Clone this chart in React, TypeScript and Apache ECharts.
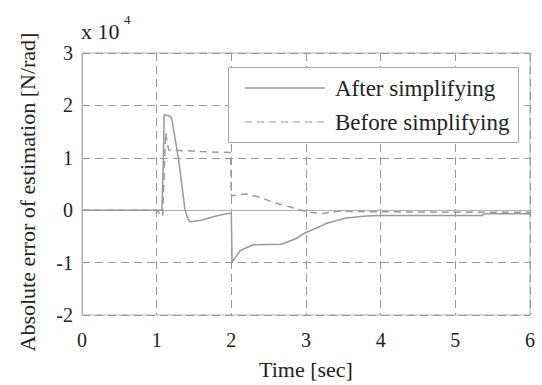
import React, { useEffect, useRef } from "react";
import * as echarts from "echarts";

const afterTimes = [0, 1.07, 1.09, 1.1, 1.17, 1.2, 1.29, 1.38, 1.42, 1.45, 1.5, 1.6, 1.72, 1.85, 1.98, 2.0, 2.01, 2.12, 2.29, 2.67, 2.87, 2.99, 3.19, 3.28, 3.54, 3.81, 4.0, 5.35, 5.4, 6];
const afterValues = [0, 0, 1.0, 1.82, 1.8, 1.76, 1.0, 0, -0.17, -0.22, -0.21, -0.19, -0.14, -0.09, -0.06, -0.06, -0.99, -0.77, -0.66, -0.65, -0.54, -0.43, -0.31, -0.25, -0.15, -0.11, -0.1, -0.1, -0.07, -0.07];

const beforeTimes = [0, 1.0, 1.05, 1.08, 1.12, 1.16, 1.3, 1.6, 1.99, 2.0, 2.02, 2.2, 2.38, 2.56, 2.79, 2.99, 3.19, 3.41, 4.0, 5.0, 6.0];
const beforeValues = [0, 0, -0.08, -0.12, 1.48, 1.15, 1.14, 1.12, 1.1, 0.27, 0.28, 0.31, 0.25, 0.15, 0.06, -0.02, -0.07, -0.02, -0.03, -0.04, -0.04];

const xTicks = [0, 1, 2, 3, 4, 5, 6];
const yTicks = [-2, -1, 0, 1, 2, 3];
const seriesNames = ["After simplifying", "Before simplifying"];
const yAxisTitle = "Absolute error of estimation [N/rad]";
const xAxisTitle = "Time [sec]";

const FONT = "'Liberation Serif', 'DejaVu Serif', serif";
const LINE_COLOR = "#9a9a9a";
const TEXT_COLOR = "#222";

export default function App() {
  const ref = useRef<HTMLDivElement>(null);
  useEffect(() => {
    if (!ref.current) return;
    const chart = echarts.init(ref.current, null, { renderer: "svg" });
    const after = afterTimes.map((t, i) => [t, afterValues[i]]);
    const before = beforeTimes.map((t, i) => [t, beforeValues[i]]);
    const legendTextStyle = {
      fontFamily: FONT,
      fontSize: 23,
      fill: TEXT_COLOR,
      verticalAlign: "middle" as const,
      align: "left" as const,
    };
    chart.setOption({
      animation: false,
      backgroundColor: "#fff",
      textStyle: { fontFamily: FONT },
      grid: {
        left: 82,
        right: 12,
        top: 53,
        bottom: 62,
        show: true,
        borderColor: "#b0b0b0",
        borderWidth: 1,
        backgroundColor: "transparent",
      },
      xAxis: {
        type: "value",
        min: xTicks[0],
        max: xTicks[xTicks.length - 1],
        interval: 1,
        name: xAxisTitle,
        nameLocation: "middle",
        nameGap: 43,
        nameTextStyle: { fontFamily: FONT, fontSize: 22, color: TEXT_COLOR },
        axisLine: { show: true, lineStyle: { color: "#b0b0b0" } },
        axisTick: { show: false },
        axisLabel: { fontFamily: FONT, fontSize: 20, color: TEXT_COLOR, margin: 15 },
        splitLine: { show: true, lineStyle: { color: "#999", type: [8, 5], width: 1 } },
      },
      yAxis: {
        type: "value",
        min: yTicks[0],
        max: yTicks[yTicks.length - 1],
        interval: 1,
        axisLine: { show: true, lineStyle: { color: "#b0b0b0" } },
        axisTick: { show: false },
        axisLabel: { fontFamily: FONT, fontSize: 20, color: TEXT_COLOR, margin: 9 },
        splitLine: { show: true, lineStyle: { color: "#999", type: [8, 5], width: 1 } },
      },
      graphic: [
        {
          type: "text",
          x: 27,
          y: 192,
          rotation: Math.PI / 2,
          style: {
            text: yAxisTitle,
            fontFamily: FONT,
            fontSize: 22,
            fill: TEXT_COLOR,
            align: "center",
            verticalAlign: "middle",
          },
        },
        {
          type: "text",
          x: 81,
          y: 31,
          style: {
            text: "x 10",
            fontFamily: FONT,
            fontSize: 22,
            fill: TEXT_COLOR,
            verticalAlign: "middle",
          },
        },
        {
          type: "text",
          x: 124,
          y: 19,
          style: {
            text: "4",
            fontFamily: FONT,
            fontSize: 13,
            fill: TEXT_COLOR,
            verticalAlign: "middle",
          },
        },
        {
          type: "rect",
          z: 10,
          shape: { x: 228.5, y: 67.5, width: 290, height: 75 },
          style: { fill: "#fff", stroke: "#a8a8a8", lineWidth: 1 },
        },
        {
          type: "line",
          z: 11,
          shape: { x1: 245, y1: 88, x2: 325, y2: 88 },
          style: { stroke: LINE_COLOR, lineWidth: 1.5 },
        },
        {
          type: "text",
          z: 11,
          x: 335,
          y: 88,
          style: { text: seriesNames[0], ...legendTextStyle },
        },
        {
          type: "line",
          z: 11,
          shape: { x1: 245, y1: 122, x2: 325, y2: 122 },
          style: { stroke: LINE_COLOR, lineWidth: 1.2, lineDash: [7, 5] },
        },
        {
          type: "text",
          z: 11,
          x: 335,
          y: 122,
          style: { text: seriesNames[1], ...legendTextStyle },
        },
      ],
      series: [
        {
          name: seriesNames[0],
          type: "line",
          data: after,
          symbol: "none",
          lineStyle: { color: LINE_COLOR, width: 1.5, type: "solid" },
          itemStyle: { color: LINE_COLOR },
        },
        {
          name: seriesNames[1],
          type: "line",
          data: before,
          symbol: "none",
          lineStyle: { color: LINE_COLOR, width: 1.5, type: [7, 5] },
          itemStyle: { color: LINE_COLOR },
        },
      ],
    });
    return () => chart.dispose();
  }, []);
  return <div ref={ref} style={{ width: 542, height: 385, position: "absolute", left: 0, top: 0 }} />;
}
